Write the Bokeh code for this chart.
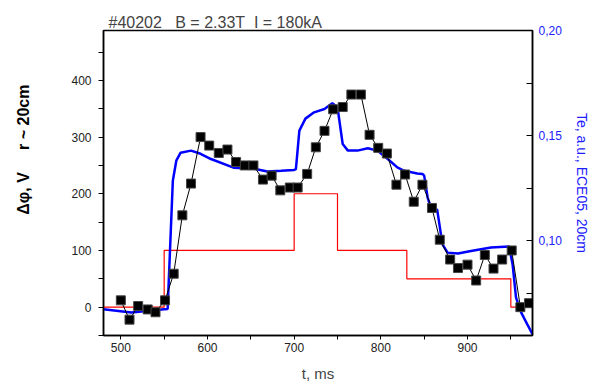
from bokeh.plotting import figure
from bokeh.models import Range1d, LinearAxis, FixedTicker
from bokeh.embed import file_html
from bokeh.resources import INLINE

# Potential difference (black squares), V
phi_t = [500, 510, 520, 531, 540, 551, 561, 571, 581, 592, 602, 613, 623, 633, 643, 653,
         664, 674, 684, 695, 704, 715, 725, 735, 745, 756, 766, 777, 787, 797, 807, 818,
         828, 838, 848, 859, 868, 880, 889, 900, 910, 920, 930, 940, 951, 961, 971]
phi_v = [12, -22, 2, -4, -9, 12, 59, 162, 218, 300, 285, 272, 278, 256, 250, 250,
         225, 232, 206, 211, 211, 235, 282, 311, 349, 353, 375, 375, 304, 281, 271, 216,
         234, 186, 216, 175, 119, 84, 69, 75, 47, 92, 68, 84, 100, 0, 7]

# Bias voltage program (red steps), V
bias_t = [480, 550, 700, 750, 830, 950, 975]
bias_v = [0, 100, 200, 100, 50, 0, 0]

# Te, ECE05 (blue), a.u.
te_t = [480, 512, 550, 554, 560, 564, 569, 581, 592, 604, 630, 654, 669, 685, 700, 702,
        706, 713, 723, 735, 744, 750, 756, 762, 773, 785, 796, 808, 819, 827, 842, 848,
        850, 854, 858, 865, 867, 871, 877, 889, 904, 927, 948, 952, 956, 962, 969, 975]
te_v = [0.0675, 0.0659, 0.0675, 0.0676, 0.1286, 0.1381, 0.1419, 0.1429, 0.1414, 0.1389,
        0.1348, 0.1343, 0.1330, 0.1333, 0.1337, 0.1341, 0.1524, 0.1581, 0.1611, 0.1627,
        0.1654, 0.1635, 0.1460, 0.1429, 0.1429, 0.1440, 0.1429, 0.1389, 0.1349, 0.1333,
        0.1320, 0.1318, 0.1310, 0.1206, 0.1154, 0.1148, 0.1095, 0.0984, 0.0944, 0.0940,
        0.0952, 0.0968, 0.0973, 0.0889, 0.0730, 0.0659, 0.0603, 0.0556]

left_ticks = [0, 100, 200, 300, 400]
left_minor = [-50, 50, 150, 250, 350, 450]
x_ticks = [500, 600, 700, 800, 900]
x_minor = [550, 650, 750, 850, 950]
right_ticks = [0.10, 0.15, 0.20]
right_minor = [0.075, 0.125, 0.175]
right_labels = {0.10: "0,10", 0.15: "0,15", 0.20: "0,20"}

FONT = "Liberation Sans"
NB = "\u00a0"

p = figure(width=592, height=385, output_backend="svg", toolbar_location=None,
           x_range=Range1d(480, 975), y_range=Range1d(-50, 488),
           min_border_left=103, min_border_right=60, min_border_top=30, min_border_bottom=50)
p.extra_y_ranges = {"te": Range1d(0.055, 0.20)}

p.grid.visible = False
p.background_fill_color = "white"
p.border_fill_color = "white"
p.outline_line_color = "black"
p.outline_line_width = 1.5

p.title.text = "#40202" + NB * 3 + "B = 2.33T" + NB * 2 + "I = 180kA"
p.title.text_font = FONT
p.title.text_font_size = "16px"
p.title.text_font_style = "normal"
p.title.align = "left"
p.title.offset = 5
p.title.standoff = 0
p.title.vertical_align = "bottom"

# bottom axis
xa = p.xaxis[0]
xa.ticker = FixedTicker(ticks=x_ticks, minor_ticks=x_minor)
xa.axis_label = "t, ms"
xa.axis_label_text_font = FONT
xa.axis_label_text_font_size = "15px"
xa.axis_label_text_font_style = "normal"
xa.axis_label_standoff = 10
xa.major_label_text_font = FONT
xa.major_label_text_font_size = "12px"
xa.major_label_text_color = "#222222"
xa.major_label_standoff = 3
xa.axis_line_width = 1.5
xa.major_tick_in = 0
xa.major_tick_out = 4
xa.minor_tick_in = 0
xa.minor_tick_out = 4

# left axis
ya = p.yaxis[0]
ya.ticker = FixedTicker(ticks=left_ticks, minor_ticks=left_minor)
ya.major_label_text_font = FONT
ya.major_label_text_font_size = "12px"
ya.major_label_text_color = "#222222"
ya.major_label_standoff = 7
ya.axis_line_width = 1.5
ya.major_tick_in = 0
ya.major_tick_out = 5
ya.minor_tick_in = 0
ya.minor_tick_out = 5
ya.axis_label = NB * 15 + "\u0394\u03c6, V" + NB * 5 + "r ~ 20cm"
ya.axis_label_text_font = FONT
ya.axis_label_text_font_size = "16px"
ya.axis_label_text_font_style = "bold"
ya.axis_label_text_color = "black"
ya.axis_label_standoff = 36

# right axis
ra = LinearAxis(y_range_name="te")
ra.ticker = FixedTicker(ticks=right_ticks, minor_ticks=right_minor)
ra.major_label_overrides = right_labels
ra.major_label_text_font = FONT
ra.major_label_text_font_size = "12px"
ra.major_label_text_color = "#2020ff"
ra.major_label_standoff = 6
ra.axis_line_width = 1.5
ra.major_tick_in = 6
ra.major_tick_out = 0
ra.minor_tick_in = 6
ra.minor_tick_out = 0
ra.axis_label = "Te, a.u., ECE05, 20cm"
ra.axis_label_text_font = FONT
ra.axis_label_text_font_size = "14px"
ra.axis_label_text_font_style = "normal"
ra.axis_label_text_color = "#2020ff"
ra.axis_label_standoff = 9
p.add_layout(ra, "right")

# data
p.step(bias_t, bias_v, mode="after", line_color="red", line_width=1.2)
p.line(te_t, te_v, y_range_name="te", line_color="#0000ff", line_width=2.5)
p.line(phi_t, phi_v, line_color="black", line_width=1)
p.scatter(phi_t, phi_v, marker="square", size=9, fill_color="black", line_color="#444444")

open("out.html", "w").write(file_html(p, INLINE))
